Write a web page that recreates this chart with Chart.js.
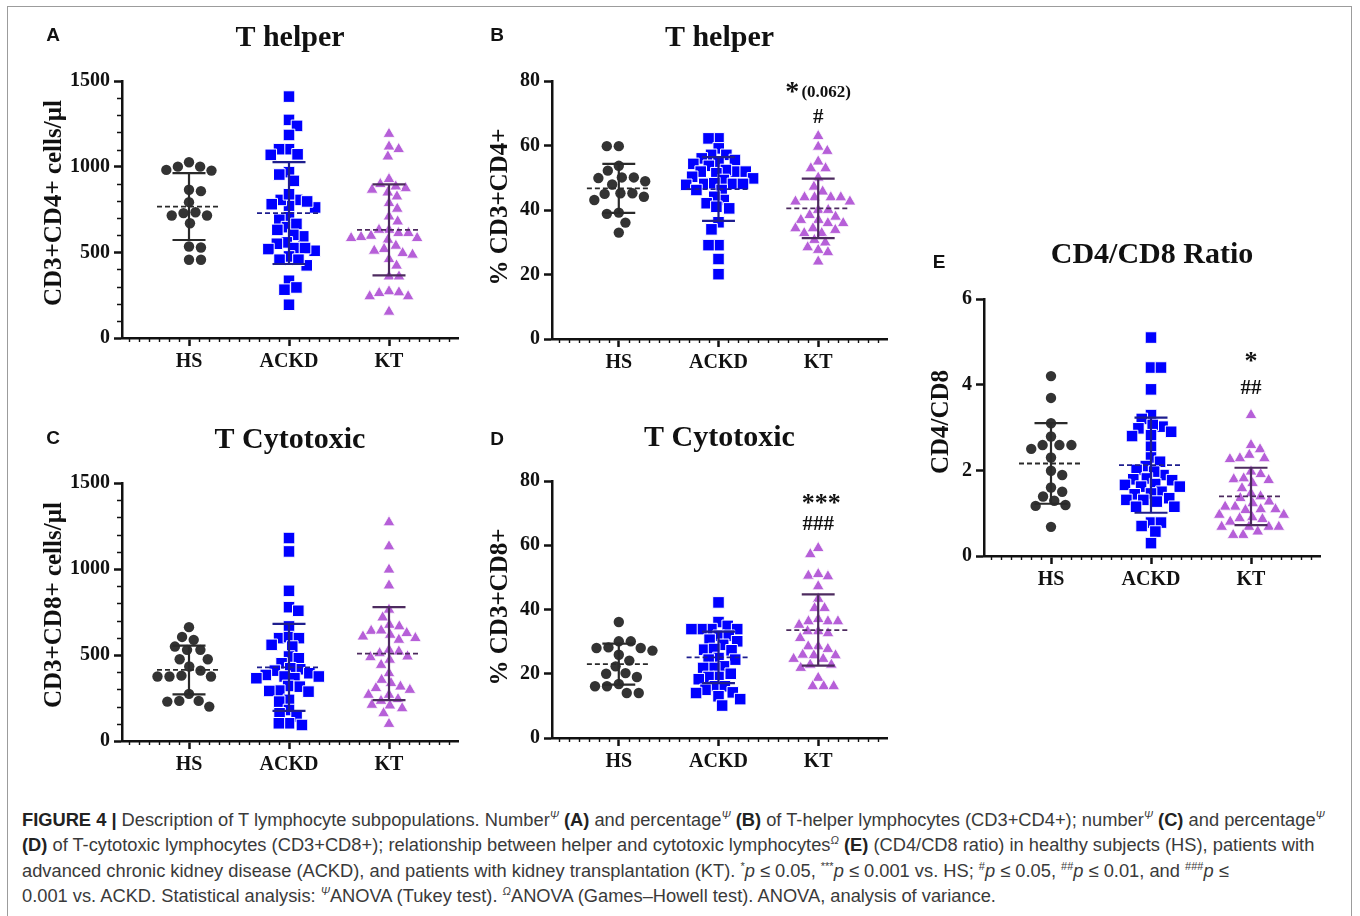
<!DOCTYPE html>
<html>
<head>
<meta charset="utf-8">
<script src="https://cdn.jsdelivr.net/npm/chart.js@4.4.1/dist/chart.umd.min.js"></script>
<style>
  body { margin: 0; width: 1360px; height: 916px; overflow: hidden; position: relative; background: #fff; }
  #frame { position: absolute; left: 7px; top: 6px; width: 1343px; height: 930px; border: 1.5px solid #9c9c9c; }
  canvas { position: absolute; }
  #caption { position: absolute; left: 22px; top: 807px; font-family: "Liberation Sans", Arial, sans-serif;
             font-size: 18.3px; line-height: 25.3px; color: #3a3a3a; white-space: nowrap; }
  #caption b { color: #222; }
  #caption sup { font-size: 11px; line-height: 0; }
</style>
</head>
<body>
<div id="frame"></div>
<div id="charts"></div>
<div id="caption">
<b>FIGURE 4 |</b> Description of T lymphocyte subpopulations. Number<sup><i>Ψ</i></sup> <b>(A)</b> and percentage<sup><i>Ψ</i></sup> <b>(B)</b> of T-helper lymphocytes (CD3+CD4+); number<sup><i>Ψ</i></sup> <b>(C)</b> and percentage<sup><i>Ψ</i></sup><br>
<b>(D)</b> of T-cytotoxic lymphocytes (CD3+CD8+); relationship between helper and cytotoxic lymphocytes<sup><i>Ω</i></sup> <b>(E)</b> (CD4/CD8 ratio) in healthy subjects (HS), patients with<br>
advanced chronic kidney disease (ACKD), and patients with kidney transplantation (KT). <sup>*</sup><i>p</i> ≤ 0.05, <sup>***</sup><i>p</i> ≤ 0.001 vs. HS; <sup>#</sup><i>p</i> ≤ 0.05, <sup>##</sup><i>p</i> ≤ 0.01, and <sup>###</sup><i>p</i> ≤<br>
0.001 vs. ACKD. Statistical analysis: <sup><i>Ψ</i></sup>ANOVA (Tukey test). <sup><i>Ω</i></sup>ANOVA (Games–Howell test). ANOVA, analysis of variance.
</div>
<script>
const groups = ['HS', 'ACKD', 'KT'];
const countTicks = [0, 500, 1000, 1500];
const pctTicks = [0, 20, 40, 60, 80];
const ratioTicks = [0, 2, 4, 6];

// A - CD3+CD4+ cells/µl
const cd4CountHS = [1000, 977, 981, 1026, 1000, 865, 857, 793, 715, 729, 715, 734, 670, 528, 534, 457, 457];
const cd4CountACKD = [1409, 1273, 1238, 1185, 1102, 1102, 1072, 1069, 968, 954, 917, 806, 771, 806, 781, 839, 762, 797, 705, 690,
  647, 666, 631, 593, 602, 558, 525, 550, 509, 525, 519, 476, 424, 457, 457, 334, 282, 295, 194];
const cd4CountKT = [1191, 1117, 1102, 1059, 927, 874, 884, 898, 849, 865, 826, 787, 754, 709, 680, 631, 631, 583, 573, 612,
  596, 589, 612, 583, 538, 519, 495, 509, 486, 460, 422, 359, 359, 272, 243, 266, 243, 262, 153];
const cd4CountMean = [767, 729, 631];
const cd4CountSD = [195, 297, 266];

// B - % CD3+CD4+
const cd4PctHS = [59.8, 59.8, 53.7, 52.2, 48.9, 50.1, 50.1, 49.9, 47.9, 44.1, 45.2, 45.2, 43.1, 45.0, 39.2, 38.8, 36.1, 33.0];
const cd4PctACKD = [62.2, 62.2, 59.1, 57.1, 57.1, 56.0, 55.5, 54.3, 54.5, 53.7, 51.9, 51.9, 52.4, 51.4, 51.9, 50.3, 49.8, 49.3,
  48.1, 47.8, 48.3, 48.1, 48.1, 46.2, 46.2, 43.1, 44.1, 42.1, 41.0, 40.5, 36.2, 34.0, 29.1, 29.1, 24.8, 20.1];
const cd4PctKT = [62.9, 59.6, 58.3, 55.0, 52.9, 52.9, 50.0, 47.2, 45.7, 43.9, 43.9, 43.9, 43.9, 42.6, 42.6, 40.0, 40.0, 36.9,
  38.4, 37.9, 36.9, 34.3, 34.3, 35.9, 35.9, 33.8, 32.8, 32.8, 30.7, 29.9, 28.4, 27.6, 26.9, 24.0];
const cd4PctMean = [46.7, 46.5, 40.5];
const cd4PctSD = [7.6, 9.9, 9.2];

// C - CD3+CD8+ cells/µl
const cd8CountHS = [662, 588, 605, 549, 530, 530, 475, 475, 433, 409, 380, 375, 375, 375, 274, 229, 233, 233, 200];
const cd8CountACKD = [1180, 1102, 873, 778, 757, 666, 598, 604, 598, 559, 549, 491, 481, 452, 417, 423, 394, 409, 384, 375,
  375, 365, 365, 320, 293, 316, 291, 287, 239, 229, 180, 161, 142, 93, 103, 103];
const cd8CountKT = [1271, 1131, 996, 904, 763, 718, 675, 666, 640, 617, 598, 607, 642, 627, 588, 530, 510, 491, 520, 487,
  442, 472, 394, 355, 316, 336, 297, 307, 268, 268, 233, 210, 243, 190, 206, 161, 99];
const cd8CountMean = [413, 428, 508];
const cd8CountSD = [142, 253, 270];

// D - % CD3+CD8+
const cd8PctHS = [36.1, 30.1, 30.1, 27.2, 28.2, 28.0, 28.0, 25.9, 24.1, 22.3, 19.0, 20.2, 20.0, 16.1, 16.8, 16.1, 14.0, 14.0];
const cd8PctACKD = [42.2, 36.1, 34.9, 33.9, 33.9, 33.9, 33.9, 31.8, 31.8, 30.1, 30.6, 29.0, 27.5, 27.3, 27.7, 24.9, 24.4,
  24.4, 22.3, 21.8, 21.8, 20.0, 19.0, 19.0, 18.3, 16.1, 16.1, 15.0, 14.2, 14.0, 13.0, 12.1, 10.1];
const cd8PctKT = [59.1, 57.2, 50.5, 51.0, 50.3, 47.2, 43.3, 40.4, 40.4, 36.3, 37.0, 36.3, 35.2, 36.3, 33.2, 33.2, 32.6, 31.1,
  28.5, 28.5, 27.7, 25.7, 25.7, 25.9, 24.6, 24.6, 22.8, 21.8, 22.8, 18.7, 16.1, 16.1, 16.1];
const cd8PctMean = [23.0, 25.1, 33.6];
const cd8PctSD = [6.4, 8.0, 11.1];

// E - CD4/CD8 ratio
const ratioHS = [4.20, 3.69, 3.10, 2.59, 2.79, 2.59, 2.59, 2.50, 2.30, 1.99, 1.89, 1.50, 1.60, 1.39, 1.19, 1.17, 1.29, 0.68];
const ratioACKD = [5.10, 4.40, 4.40, 3.89, 3.29, 3.20, 3.02, 2.98, 3.06, 2.90, 2.82, 2.80, 2.55, 2.30, 2.20, 2.10, 2.01, 1.89,
  1.97, 1.81, 1.79, 1.77, 1.68, 1.62, 1.66, 1.62, 1.50, 1.44, 1.46, 1.31, 1.35, 1.31, 1.27, 1.15, 1.15, 0.78, 0.78, 0.70, 0.57, 0.30];
const ratioKT = [3.29, 2.59, 2.49, 2.36, 2.28, 2.26, 2.28, 1.91, 1.97, 1.79, 1.70, 1.77, 1.81, 1.58, 1.46, 1.39, 1.35, 1.23,
  1.27, 1.09, 1.15, 1.15, 1.09, 1.07, 0.96, 0.96, 0.90, 0.88, 0.80, 0.86, 0.68, 0.68, 0.68, 0.68, 0.57, 0.49, 0.49];
const ratioMean = [2.16, 2.12, 1.39];
const ratioSD = [0.94, 1.11, 0.67];

const dotColors = ['#333333', '#0000ff', '#b65fd8'];
const barColors = ['#2a2a2a', '#1e1e8e', '#4d2b5f'];
const shapes = ['circle', 'rect', 'triangle'];
const radii = [5.2, 8.2, 6.8];
const edges = [0, 1, 0.8];
const gaps = [12, 10, 10];
const serif = '"Liberation Serif", "DejaVu Serif", serif';

const panels = [
  { letter: 'A', title: 'T helper', yLabel: 'CD3+CD4+ cells/µl', series: [cd4CountHS, cd4CountACKD, cd4CountKT],
    mean: cd4CountMean, sd: cd4CountSD, ticks: countTicks, minor: 100,
    box: [122, 81, 458, 338], titleBase: 46, label: [55, 203], letterAt: [53, 36], marks: [] },
  { letter: 'B', title: 'T helper', yLabel: '% CD3+CD4+', series: [cd4PctHS, cd4PctACKD, cd4PctKT],
    mean: cd4PctMean, sd: cd4PctSD, ticks: pctTicks, minor: 0,
    box: [552, 81, 887, 339], titleBase: 46, label: [501, 207], letterAt: [497, 36],
    marks: [{ t: '*', y: 74.1, dx: -26, size: 28 }, { t: '(0.062)', y: 75.0, dx: 8, size: 17 }, { t: '#', y: 67.0, dx: 0, size: 21 }] },
  { letter: 'C', title: 'T Cytotoxic', yLabel: 'CD3+CD8+ cells/µl', series: [cd8CountHS, cd8CountACKD, cd8CountKT],
    mean: cd8CountMean, sd: cd8CountSD, ticks: countTicks, minor: 100,
    box: [122, 483, 458, 741], titleBase: 448, label: [55, 605], letterAt: [53, 439], marks: [] },
  { letter: 'D', title: 'T Cytotoxic', yLabel: '% CD3+CD8+', series: [cd8PctHS, cd8PctACKD, cd8PctKT],
    mean: cd8PctMean, sd: cd8PctSD, ticks: pctTicks, minor: 0,
    box: [552, 481, 887, 738], titleBase: 446, label: [501, 607], letterAt: [497, 440],
    marks: [{ t: '***', y: 70.7, dx: 3, size: 26 }, { t: '###', y: 64.7, dx: 0, size: 21 }] },
  { letter: 'E', title: 'CD4/CD8 Ratio', yLabel: 'CD4/CD8', series: [ratioHS, ratioACKD, ratioKT],
    mean: ratioMean, sd: ratioSD, ticks: ratioTicks, minor: 0,
    box: [984, 299, 1320, 556], titleBase: 263, label: [942, 422], letterAt: [939, 263],
    marks: [{ t: '*', y: 4.37, dx: 0, size: 26 }, { t: '##', y: 3.78, dx: 0, size: 21 }] }
];

// simple beeswarm: horizontal offsets (px) so markers don't overlap
function swarm(vals, pxPerUnit, d) {
  const order = vals.map((v, i) => i).sort((a, b) => vals[b] - vals[a]);
  const placed = [];
  const out = new Array(vals.length);
  let flip = 1;
  for (const i of order) {
    const y = vals[i] * pxPerUnit;
    const near = placed.filter(p => Math.abs(p.y - y) < d);
    const cands = [0];
    near.forEach(p => {
      const dx = Math.sqrt(d * d - (p.y - y) ** 2);
      cands.push(p.x + dx, p.x - dx);
    });
    cands.sort((a, b) => (Math.abs(a) - Math.abs(b)) || (flip * (b - a)));
    const x = cands.find(c => near.every(p => (p.x - c) ** 2 + (p.y - y) ** 2 >= d * d - 0.01));
    placed.push({ x, y });
    out[i] = x;
    flip = -flip;
  }
  return out;
}

const decor = {
  id: 'decor',
  afterDraw(chart, args, opts) {
    const p = opts.panel, ctx = chart.ctx, a = chart.chartArea;
    const xs = chart.scales.x, ys = chart.scales.y;
    const ox = opts.ox, oy = opts.oy;
    ctx.save();
    ctx.strokeStyle = '#111';
    ctx.lineWidth = 1.4;
    ctx.beginPath();
    for (let v = Math.ceil(xs.min * 10); v <= Math.floor(xs.max * 10); v++) {
      if (v % 10 === 0) continue;
      const x = Math.round(xs.getPixelForValue(v / 10)) + 0.5;
      ctx.moveTo(x, a.bottom);
      ctx.lineTo(x, a.bottom + 4);
    }
    if (p.minor) {
      for (let v = p.minor; v < ys.max; v += p.minor) {
        if (p.ticks.includes(v)) continue;
        const y = Math.round(ys.getPixelForValue(v)) + 0.5;
        ctx.moveTo(a.left, y);
        ctx.lineTo(a.left - 5, y);
      }
    }
    ctx.stroke();

    ctx.fillStyle = '#111';
    ctx.textAlign = 'center';
    ctx.textBaseline = 'alphabetic';
    ctx.font = 'bold 30px ' + serif;
    ctx.fillText(p.title, (a.left + a.right) / 2, p.titleBase - oy);

    ctx.save();
    ctx.translate(p.label[0] - ox, p.label[1] - oy);
    ctx.rotate(-Math.PI / 2);
    ctx.textBaseline = 'middle';
    ctx.font = 'bold 25px ' + serif;
    ctx.fillText(p.yLabel, 0, 0);
    ctx.restore();

    ctx.textBaseline = 'middle';
    ctx.font = 'bold 19px "Liberation Sans", Arial, sans-serif';
    ctx.fillText(p.letter, p.letterAt[0] - ox, p.letterAt[1] - oy);

    ctx.textBaseline = 'alphabetic';
    p.marks.forEach(m => {
      ctx.font = 'bold ' + m.size + 'px ' + serif;
      ctx.fillText(m.t, xs.getPixelForValue(2) + m.dx, ys.getPixelForValue(m.y));
    });
    ctx.restore();
  }
};

const holder = document.getElementById('charts');
panels.forEach(p => {
  const [l, t, r, b] = p.box;
  const ox = l - 100, oy = t - 80;
  const w = r - l + 130, h = b - t + 130;
  const yW = 60, xH = 40;
  const cv = document.createElement('canvas');
  cv.width = w; cv.height = h;
  cv.style.left = ox + 'px'; cv.style.top = oy + 'px';
  cv.style.width = w + 'px'; cv.style.height = h + 'px';
  holder.appendChild(cv);

  const ymax = p.ticks[p.ticks.length - 1];
  const pxY = (b - t) / ymax;
  const pxX = (r - l) / 3.36;

  const datasets = [];
  p.series.forEach((vals, g) => {
    const m = p.mean[g], s = p.sd[g];
    datasets.push({
      type: 'line', showLine: true, pointRadius: 0, borderColor: barColors[g], borderWidth: 2.2, order: 0,
      data: [{ x: g - 0.165, y: m + s }, { x: g + 0.165, y: m + s }, { x: g, y: m + s },
             { x: g, y: m - s }, { x: g - 0.165, y: m - s }, { x: g + 0.165, y: m - s }]
    });
    datasets.push({
      type: 'line', showLine: true, pointRadius: 0, borderColor: barColors[g], borderWidth: 1.8,
      borderDash: [5, 3], order: 0,
      data: [{ x: g - 0.32, y: m }, { x: g + 0.32, y: m }]
    });
  });
  p.series.forEach((vals, g) => {
    const offs = swarm(vals, pxY, gaps[g]);
    datasets.push({
      data: vals.map((v, i) => ({ x: g + offs[i] / pxX, y: v })),
      pointStyle: shapes[g], pointRadius: radii[g], pointBackgroundColor: dotColors[g],
      pointBorderColor: '#ffffff', pointBorderWidth: edges[g], pointHoverRadius: radii[g], order: 1
    });
  });

  new Chart(cv, {
    type: 'scatter',
    data: { datasets },
    options: {
      responsive: false,
      animation: false,
      events: [],
      layout: { padding: { left: 100 - yW, top: 80, right: 30, bottom: h - 80 - (b - t) - xH } },
      plugins: { legend: { display: false }, tooltip: { enabled: false }, decor: { panel: p, ox, oy } },
      scales: {
        x: {
          type: 'linear', min: -0.67, max: 2.69,
          afterBuildTicks: s => { s.ticks = groups.map((g, i) => ({ value: i })); },
          afterFit: s => { s.height = xH; },
          ticks: { callback: v => groups[v], autoSkip: false, maxRotation: 0, padding: 4, color: '#111',
                   font: { family: serif, size: 20, weight: 'bold' } },
          grid: { drawOnChartArea: false, tickLength: 8, tickWidth: 2.5, tickColor: '#111' },
          border: { color: '#111', width: 2.5 }
        },
        y: {
          min: 0, max: ymax,
          afterBuildTicks: s => { s.ticks = p.ticks.map(v => ({ value: v })); },
          afterFit: s => { s.width = yW; },
          ticks: { callback: v => String(v), padding: 4, color: '#111',
                   font: { family: serif, size: 20, weight: 'bold' } },
          grid: { drawOnChartArea: false, tickLength: 8, tickWidth: 2.5, tickColor: '#111' },
          border: { color: '#111', width: 2.5 }
        }
      }
    },
    plugins: [decor]
  });
});
</script>
</body>
</html>
